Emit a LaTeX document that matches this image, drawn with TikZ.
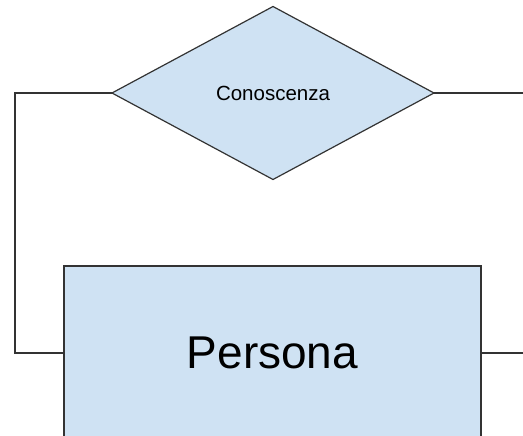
\documentclass[tikz,border=0pt]{standalone}
\usepackage{fontspec}
\setmainfont{Liberation Sans}
\usetikzlibrary{shapes.geometric}
\definecolor{boxblue}{HTML}{CFE2F3}
\definecolor{edgegray}{HTML}{333333}
\begin{document}
\begin{tikzpicture}[x=1pt,y=-1pt,line width=1.2pt,
  relation/.style={draw=edgegray, fill=boxblue, shape=diamond, inner sep=0pt, outer sep=0pt,
    minimum width=322pt, minimum height=173pt, font=\fontsize{20.5}{24}\selectfont},
  entity/.style={draw=edgegray, fill=boxblue, shape=rectangle, inner sep=0pt, outer sep=0pt,
    minimum width=417pt, minimum height=174pt, font=\fontsize{46}{52}\selectfont}]
\clip (0, 0) rectangle (523, 436);
\draw (273, 93) node[relation] (know) {Conoscenza};
\draw (272.5, 353) node[entity] (person) {Persona};
\coordinate (bend) at (15, 93);
\coordinate (outtop) at (523, 93);
\coordinate (outbot) at (523, 353);
\draw[edgegray] (know.west) -- (bend) |- (person.west);
\draw[edgegray] (know.east) -- (outtop);
\draw[edgegray] (person.east) -- (outbot);
\end{tikzpicture}
\end{document}
